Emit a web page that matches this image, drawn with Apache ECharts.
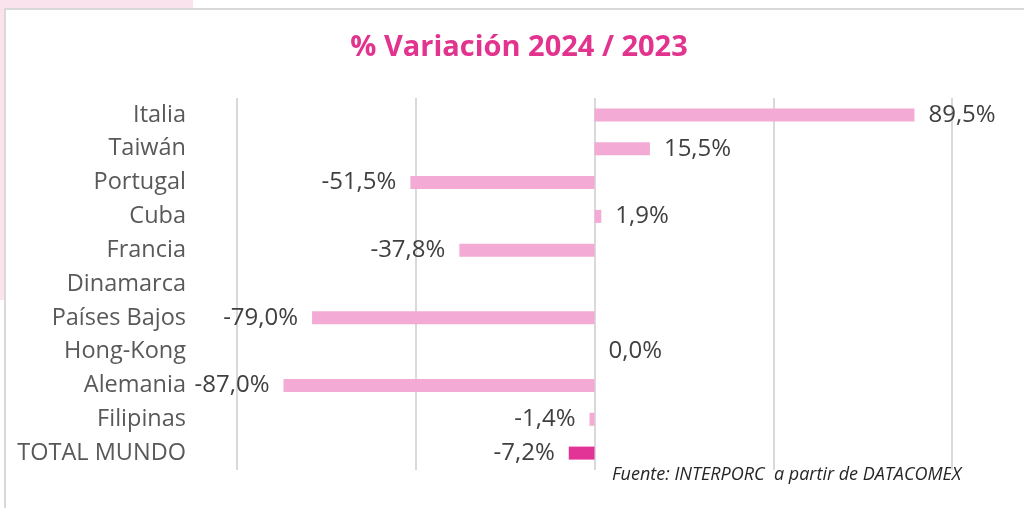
<!DOCTYPE html>
<html>
<head>
<meta charset="utf-8">
<script src="https://cdn.jsdelivr.net/npm/echarts@6/dist/echarts.min.js"></script>
<style>
  html, body { margin: 0; padding: 0; background: #ffffff; }
  #chart { width: 1024px; height: 508px; }
</style>
</head>
<body>
<div id="chart"></div>
<script>
// Countries, top to bottom
const countries = ['Italia', 'Taiwán', 'Portugal', 'Cuba', 'Francia', 'Dinamarca',
  'Países Bajos', 'Hong-Kong', 'Alemania', 'Filipinas', 'TOTAL MUNDO'];
// % change 2024 vs 2023 (Dinamarca has no figure)
const variation = [89.5, 15.5, -51.5, 1.9, -37.8, null, -79.0, 0.0, -87.0, -1.4, -7.2];
const axisTicks = [-100, -50, 0, 50, 100];

const titleText = '% Variación 2024 / 2023';
const sourceText = 'Fuente: INTERPORC  a partir de DATACOMEX';

const barColor = '#f3aad4';
const totalColor = '#e23397';
const font = 'Open Sans';

function fmt(v) {
  return v.toFixed(1).replace('.', ',') + '%';
}

const seriesData = variation.map((v, i) => {
  if (v === null) return { value: null, label: { show: false } };
  const isTotal = countries[i] === 'TOTAL MUNDO';
  return {
    value: v,
    itemStyle: { color: isTotal ? totalColor : barColor },
    label: { position: v < 0 ? 'left' : 'right' }
  };
});

const chart = echarts.init(document.getElementById('chart'), null, { renderer: 'canvas' });
chart.setOption({
  backgroundColor: '#ffffff',
  animation: false,
  graphic: [
    { type: 'rect', shape: { x: 0, y: 0, width: 193, height: 9 }, style: { fill: '#fbe3ee' }, z: -10 },
    { type: 'rect', shape: { x: 0, y: 0, width: 4, height: 300 }, style: { fill: '#fbe3ee' }, z: -10 },
    { type: 'rect', shape: { x: 5, y: 9, width: 1040, height: 520 }, style: { fill: '#ffffff', stroke: '#d9d9d9', lineWidth: 2 }, z: -9 },
    {
      type: 'text', left: 612, top: 466,
      style: { text: sourceText, font: 'italic 18px "Open Sans"', fill: '#262626' }
    }
  ],
  title: {
    text: titleText,
    left: 514, top: 28, textAlign: 'center',
    textStyle: { fontFamily: font, fontWeight: 'bold', fontSize: 29, color: '#e2338f' }
  },
  grid: { left: 237, right: 72, top: 98, bottom: 38, containLabel: false },
  xAxis: {
    type: 'value',
    min: axisTicks[0], max: axisTicks[axisTicks.length - 1], interval: 50,
    axisLabel: { show: false },
    axisLine: { show: false },
    axisTick: { show: false },
    splitLine: { show: true, lineStyle: { color: '#d9d9d9', width: 2 } }
  },
  yAxis: {
    type: 'category',
    data: countries,
    inverse: true,
    axisLine: { show: false },
    axisTick: { show: false },
    axisLabel: { margin: 51, fontFamily: font, fontSize: 23.5, color: '#595959' }
  },
  series: [{
    type: 'bar',
    data: seriesData,
    barWidth: 13,
    label: {
      show: true,
      distance: 14,
      fontFamily: font,
      fontSize: 24,
      color: '#404040',
      formatter: p => (p.value === null || p.value === undefined) ? '' : fmt(p.value)
    }
  }]
});
</script>
</body>
</html>
